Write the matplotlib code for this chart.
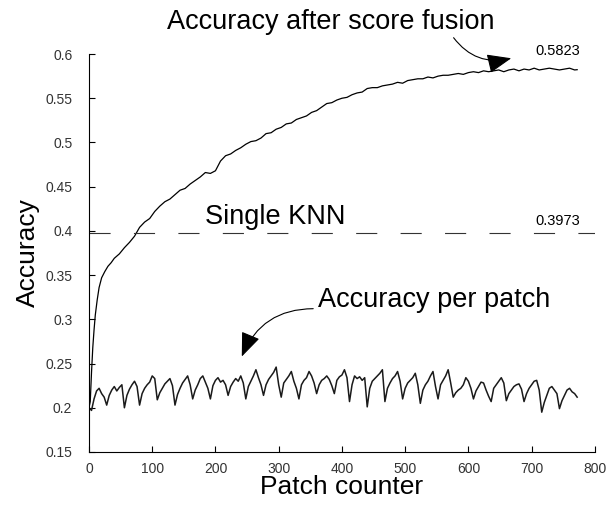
import numpy as np
import matplotlib.pyplot as plt

plt.rcParams['font.family'] = ['Liberation Sans', 'DejaVu Sans']

# Accuracy after score fusion
fusion_patch = [0, 2, 4, 6, 8, 10, 13, 16, 20, 25, 30, 35, 40] + list(range(48, 769, 8)) + [772]
fusion_acc = [
    0.200, 0.207, 0.240, 0.268, 0.288, 0.305, 0.322, 0.336, 0.347, 0.354, 0.360, 0.364, 0.369,
    0.374, 0.381, 0.387, 0.394, 0.404, 0.410, 0.414, 0.422, 0.428, 0.433,
    0.436, 0.441, 0.446, 0.448, 0.453, 0.457, 0.461, 0.466, 0.465, 0.468,
    0.479, 0.485, 0.487, 0.491, 0.494, 0.498, 0.501, 0.502, 0.505, 0.510,
    0.511, 0.515, 0.517, 0.521, 0.522, 0.526, 0.528, 0.530, 0.534, 0.536,
    0.540, 0.544, 0.545, 0.548, 0.550, 0.551, 0.554, 0.556, 0.557, 0.561,
    0.562, 0.562, 0.564, 0.565, 0.566, 0.568, 0.567, 0.570, 0.571, 0.572,
    0.572, 0.574, 0.573, 0.575, 0.576, 0.576, 0.577, 0.578, 0.577, 0.579,
    0.580, 0.579, 0.581, 0.580, 0.581, 0.582, 0.580, 0.582, 0.583, 0.581,
    0.583, 0.582, 0.584, 0.582, 0.583, 0.584, 0.583, 0.582, 0.583, 0.584,
    0.582, 0.5823,
]

# Accuracy per patch, every 4th patch
patch_acc = [
    0.200, 0.197, 0.210, 0.219, 0.222, 0.216, 0.212, 0.203, 0.214, 0.220,
    0.224, 0.219, 0.223, 0.226, 0.200, 0.214, 0.221, 0.226, 0.230, 0.224,
    0.203, 0.216, 0.222, 0.226, 0.229, 0.236, 0.233, 0.209, 0.217, 0.222,
    0.227, 0.230, 0.233, 0.225, 0.203, 0.215, 0.222, 0.228, 0.232, 0.236,
    0.226, 0.210, 0.220, 0.226, 0.233, 0.236, 0.229, 0.222, 0.210, 0.225,
    0.231, 0.234, 0.229, 0.231, 0.226, 0.214, 0.224, 0.229, 0.233, 0.230,
    0.236, 0.228, 0.210, 0.224, 0.230, 0.236, 0.243, 0.234, 0.226, 0.214,
    0.226, 0.232, 0.236, 0.240, 0.246, 0.226, 0.212, 0.228, 0.232, 0.236,
    0.241, 0.230, 0.222, 0.210, 0.226, 0.231, 0.234, 0.241, 0.236, 0.228,
    0.216, 0.226, 0.231, 0.233, 0.236, 0.232, 0.225, 0.216, 0.231, 0.235,
    0.237, 0.243, 0.234, 0.207, 0.226, 0.236, 0.233, 0.235, 0.231, 0.234,
    0.201, 0.222, 0.230, 0.233, 0.236, 0.239, 0.243, 0.207, 0.222, 0.228,
    0.233, 0.236, 0.241, 0.230, 0.210, 0.222, 0.228, 0.231, 0.234, 0.239,
    0.226, 0.205, 0.220, 0.226, 0.230, 0.236, 0.241, 0.224, 0.210, 0.226,
    0.231, 0.236, 0.243, 0.228, 0.212, 0.217, 0.220, 0.222, 0.226, 0.234,
    0.230, 0.222, 0.210, 0.219, 0.224, 0.229, 0.228, 0.220, 0.213, 0.207,
    0.222, 0.226, 0.230, 0.234, 0.228, 0.208, 0.216, 0.220, 0.224, 0.226,
    0.227, 0.221, 0.207, 0.216, 0.222, 0.226, 0.230, 0.231, 0.220, 0.195,
    0.206, 0.214, 0.222, 0.224, 0.220, 0.216, 0.199, 0.208, 0.214, 0.220,
    0.222, 0.218, 0.216, 0.212,
]
patch_idx = list(range(0, 4 * len(patch_acc), 4))

knn_acc = 0.3973
final_acc = 0.5823

fig = plt.figure(figsize=(6.07, 5.05), dpi=100)
ax = fig.add_axes([0.1466, 0.105, 0.8334, 0.788])

ax.plot(fusion_patch, fusion_acc, color='black', linewidth=0.9)
ax.plot(patch_idx, patch_acc, color='#1a1a1a', linewidth=1.1)
ax.axhline(knn_acc, color='#333333', linewidth=0.8, dashes=(19, 21))

ax.set_xlim(0, 800)
ax.set_ylim(0.15, 0.6)
ax.set_xticks(np.arange(0, 801, 100))
ax.set_yticks(np.arange(0.15, 0.601, 0.05))
ax.set_yticklabels(['0.15', '0.2', '0.25', '0.3', '0.35', '0.4', '0.45', '0.5', '0.55', '0.6'])
ax.spines['top'].set_visible(False)
ax.spines['right'].set_visible(False)
ax.tick_params(direction='in', length=4, width=0.8, labelsize=10, labelcolor='#333333')
ax.tick_params(axis='x', pad=7)
ax.tick_params(axis='y', pad=12)

ax.set_xlabel('Patch counter', fontsize=19)
ax.set_ylabel('Accuracy', fontsize=19)
ax.xaxis.set_label_coords(0.5, -0.058)
ax.yaxis.set_label_coords(-0.097, 0.5)

ax.text(383, 0.636, 'Accuracy after score fusion', fontsize=19.5, ha='center', va='center')
ax.text(706, 0.6036, '0.5823', fontsize=10.5, ha='left', va='center')
ax.text(706, 0.411, '0.3973', fontsize=10.5, ha='left', va='center')
ax.text(183, 0.416, 'Single KNN', fontsize=19.5, ha='left', va='center')
ax.text(362, 0.322, 'Accuracy per patch', fontsize=19.5, ha='left', va='center')

ax.annotate('', xy=(672, 0.596), xytext=(574, 0.621), annotation_clip=False,
            arrowprops=dict(arrowstyle='-|>,head_length=1.5,head_width=0.6', color='black',
                            lw=0.8, connectionstyle='arc3,rad=0.35'))
ax.annotate('', xy=(240, 0.255), xytext=(359, 0.312),
            arrowprops=dict(arrowstyle='-|>,head_length=1.5,head_width=0.6', color='black',
                            lw=0.8, connectionstyle='arc3,rad=0.35'))

plt.savefig('out.png', dpi=100)
